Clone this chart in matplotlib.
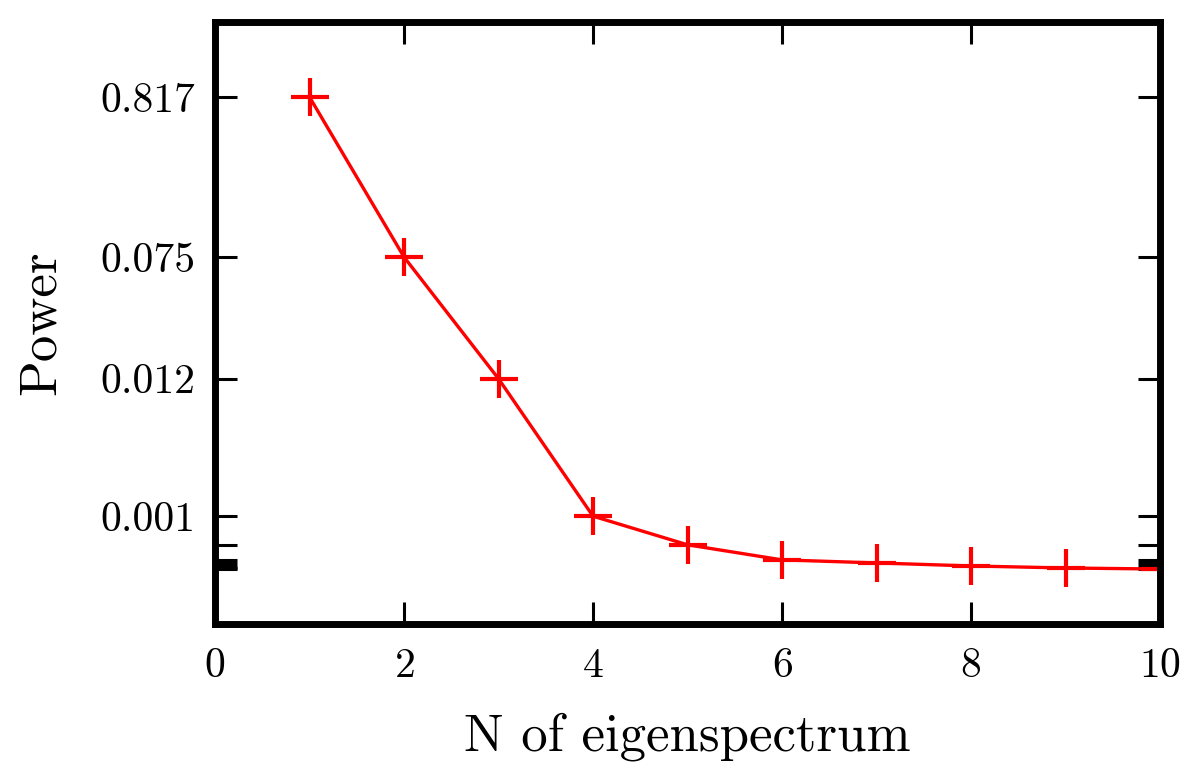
import numpy as np
import matplotlib
matplotlib.use("Agg")
import matplotlib.pyplot as plt

# values (log y axis)
n_eigen = [1, 2, 3, 4, 5, 6, 7, 8, 9, 10]
power = [0.817, 0.0747, 0.0121, 0.00155, 0.00101, 0.000806,
         0.000770, 0.000736, 0.000714, 0.000703]
ytick_labels = ["0.817", "0.075", "0.012", "0.001", "", "", "", "", "", ""]
xticks = [0, 2, 4, 6, 8, 10]

plt.rcParams.update({
    "font.family": ["cmr10", "DejaVu Serif"],
    "axes.formatter.use_mathtext": True,
    "xtick.labelsize": 30,
    "ytick.labelsize": 30,
    "axes.labelsize": 38,
})

fig = plt.figure(figsize=(12, 7.84), dpi=100)
ax = fig.add_axes([215/1200, 1 - 624/784, (1160 - 215)/1200, (624 - 21.7)/784])

ax.plot(n_eigen, power, color="#ff0000", linewidth=2.4,
        marker="+", markersize=27, markeredgewidth=3.0)

ax.set_yscale("log")
ax.set_xlim(0, 10)
ax.set_ylim(0.000309, 2.52)

ax.set_xticks(xticks)
ax.set_yticks(power)
ax.set_yticklabels(ytick_labels)
ax.minorticks_off()

ax.tick_params(axis="both", which="major", direction="in", length=16, width=2.2,
               top=True, right=True, color="black")
ax.tick_params(axis="x", pad=17)
ax.tick_params(axis="y", pad=14)

for s in ax.spines.values():
    s.set_linewidth(5)

ax.set_xlabel("N of eigenspectrum", labelpad=20)
ax.set_ylabel("Power", labelpad=26)

fig.savefig("out.png", dpi=100)
